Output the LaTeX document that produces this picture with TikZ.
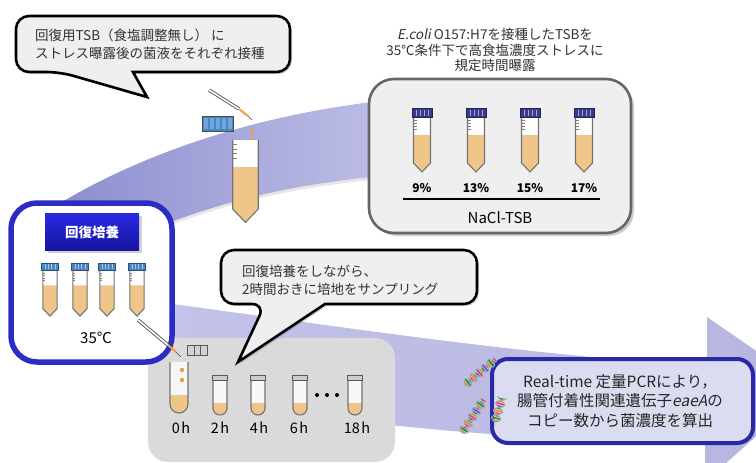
\documentclass[tikz,border=0pt]{standalone}
\usepackage{fontspec}
\setmainfont{Noto Sans CJK JP}
\newfontfamily\slantfont{Noto Sans CJK JP}[FakeSlant=0.2]
\usetikzlibrary{shadows}

\definecolor{broth}{HTML}{EFC58A}
\definecolor{drop}{HTML}{E9A040}
\definecolor{navycap}{HTML}{3A3A8C}
\definecolor{steelcap}{HTML}{4A86C4}
\definecolor{cellblue}{HTML}{6FA6DC}
\definecolor{recblue}{HTML}{2C2CC4}
\definecolor{pcrblue}{HTML}{2A2AA8}
\definecolor{pcrfill}{HTML}{DCDCF0}
\definecolor{boxgray}{HTML}{EFEFEF}
\definecolor{panelgray}{HTML}{DADADA}
\definecolor{headtop}{HTML}{2A2AE0}
\definecolor{headbot}{HTML}{1414A0}
\definecolor{bandA}{HTML}{8E8ED0}
\definecolor{bandB}{HTML}{D4D4F2}
\definecolor{bandC}{HTML}{BDBDE6}
\definecolor{bandD}{HTML}{C2C2EA}
\definecolor{bandE}{HTML}{DDDDF3}
\definecolor{bandF}{HTML}{B5B5E0}

\newcommand{\fsize}[2]{\fontsize{#1}{#2}\selectfont}

\tikzset{
  callout/.style={draw=black, line width=2.6pt, fill=boxgray, drop shadow={opacity=0.3, shadow xshift=2pt, shadow yshift=-2pt}},
  saltbox/.style={draw=black!60, line width=2.6pt, fill=boxgray, rounded corners=25pt, drop shadow={opacity=0.4, shadow xshift=3pt, shadow yshift=-3pt}},
  recbox/.style={draw=recblue, line width=5.5pt, fill=white, rounded corners=26pt},
  pcrbox/.style={draw=pcrblue, line width=4pt, fill=pcrfill, rounded corners=16pt, drop shadow={opacity=0.25, shadow xshift=2pt, shadow yshift=-2pt}},
  header/.style={top color=headtop, bottom color=headbot, text=white, font=\bfseries\fsize{13.5}{16}, minimum width=94pt, minimum height=37pt, drop shadow={opacity=0.35}},
  note/.style={align=left, text=black!80, inner sep=0pt},
  upperband/.style={left color=bandA, middle color=bandB, right color=bandC, drop shadow={opacity=0.2, shadow xshift=0pt, shadow yshift=-3pt}},
  lowerband/.style={left color=bandD, middle color=bandE, right color=bandF},
  tubeedge/.style={draw=black!55, line width=1.1pt, line join=round},
  pct/.style={font=\bfseries\fsize{12}{14}},
  hours/.style={font=\fsize{14.5}{16}},
}

% conical tube, cap top at (#1,#2), scaled by #3
\newcommand{\conetube}[3]{%
  \begin{scope}[shift={(#1,#2)}, scale=#3]
    \fill[white] (-8.5,9) rectangle (8.5,27);
    \fill[broth] (-8.5,27) -- (-8.5,55) -- (0,64) -- (8.5,55) -- (8.5,27) -- cycle;
    \foreach \m in {12,15,18,21} \draw[gray, line width=0.6pt] (-8.5,\m) -- (-5.5,\m);
    \draw[tubeedge] (-8.5,9) -- (-8.5,55) -- (0,64) -- (8.5,55) -- (8.5,9);
  \end{scope}}

% screw cap for the conical tube
\newcommand{\tubecap}[4]{%
  \begin{scope}[shift={(#1,#2)}, scale=#3]
    \fill[#4] (-10,0) rectangle (10,9);
    \foreach \s in {-6,-2,2,6} \draw[white!55!#4, line width=0.6pt] (\s,1.5) -- (\s,7.5);
    \draw[#4!60!black, line width=0.6pt] (-10,0) rectangle (10,9);
  \end{scope}}

% round-bottom tube: x, top, bottom, liquid level, half width
\newcommand{\roundtube}[5]{%
  \fill[white!94!gray, rounded corners=#5pt] ({#1-#5},#2) -- ({#1-#5},#3) -- ({#1+#5},#3) -- ({#1+#5},#2);
  \fill[broth, rounded corners=#5pt] ({#1-#5},#4) -- ({#1-#5},#3) -- ({#1+#5},#3) -- ({#1+#5},#4);
  \draw[tubeedge, rounded corners=#5pt] ({#1-#5},#2) -- ({#1-#5},#3) -- ({#1+#5},#3) -- ({#1+#5},#2);}

% pipette: body #1--#2, orange tip to #3, point at #4
\newcommand{\pipette}[4]{%
  \draw[gray!70!black, line width=3.4pt] #1 -- #2;
  \draw[white, line width=1.6pt] #1 -- #2;
  \draw[drop, line width=2pt] #2 -- #3;
  \draw[black!70, line width=0.6pt] #3 -- #4;}

% little double helix from (#1,#2), tilted by #3, length #4
\newcommand{\helix}[4]{%
  \begin{scope}[shift={(#1,#2)}, rotate=#3]
    \foreach \r [count=\k] in {1.5,4,...,#4} {
      \pgfmathtruncatemacro\hm{mod(\k,4)}
      \ifcase\hm \def\rc{red!80}\or\def\rc{orange}\or\def\rc{green!60!black}\or\def\rc{blue!70}\fi
      \draw[\rc, line width=1.4pt] (\r,{4.5*sin(\r*24)}) -- (\r,{-4.5*sin(\r*24)});
    }
    \draw[gray!70, line width=1.1pt] plot[domain=0:#4, samples=40] (\x,{4.5*sin(\x*24)});
    \draw[gray!70, line width=1.1pt] plot[domain=0:#4, samples=40] (\x,{-4.5*sin(\x*24)});
  \end{scope}}

\begin{document}
\begin{tikzpicture}[x=1pt, y=-1pt, font=\fsize{13.5}{18}]
\useasboundingbox (0,0) rectangle (756,463);
\clip (0,0) rectangle (756,463);

% the two sweeping arrows
\path[upperband] (62,202) .. controls (150,150) and (260,115) .. (380,101) -- (380,176)
  .. controls (290,185) and (230,200) .. (165,224) -- cycle;
\path[lowerband] (165,303) .. controls (330,325) and (520,355) .. (707,366) -- (707,317)
  -- (810,388) -- (705,482) -- (705,442) .. controls (560,442) and (400,432) .. (165,395) -- cycle;

% sampling panel
\fill[panelgray, rounded corners=20pt] (148,338) rectangle (395,462);

% recovery culture
\draw[recbox] (11,203) rectangle (172,362);
\node[header] (rechead) at (92,232) {回復培養};
\foreach \x in {50,80,107,137} {
  \conetube{\x}{263}{0.83}
  \tubecap{\x}{263}{0.83}{steelcap}
}
\node[font=\fsize{15}{18}] (rectemp) at (96,338) {35℃};

% first callout
\draw[callout] (16,44) [rounded corners=13pt] -- (16,72) -- (60,72) [sharp corners] -- (147,97)
  -- (133,72) [rounded corners=13pt] -- (290,72) -- (290,16) -- (16,16) -- cycle;
\node[note, anchor=west] (inoctext) at (35,44) {回復用TSB（食塩調整無し） に\\ストレス曝露後の菌液をそれぞれ接種};

% inoculation into fresh TSB
\fill[steelcap] (202,116) rectangle (233,131);
\foreach \x in {203.5,209.5,...,227.5} \fill[cellblue] (\x,118) rectangle +(4.5,11);
\draw[black!70, line width=0.8pt] (202,116) rectangle (233,131);
\pipette{(209,90)}{(239,109)}{(248,116)}{(252,120)}
\fill[drop] (252,131) circle (2.2);
\fill[drop] (252,140) circle (2.2);
\conetube{245.5}{126.5}{1.5}

% stress exposure
\node[align=center, text=black!80, font=\fsize{13.5}{15.5}] (stresstext) at (495,50)
  {{\slantfont E.coli} O157:H7を接種したTSBを\\35℃条件下で高食塩濃度ストレスに\\規定時間曝露};
\draw[saltbox] (369,79) rectangle (631,233);
\foreach \x/\p in {422/9,476/13,530/15,584/17} {
  \conetube{\x}{108}{1}
  \tubecap{\x}{108}{1}{navycap}
  \node[pct] (pct\p) at (\x,188) {\p\%};
}
\draw[line width=1.2pt] (403,199) -- (600,199);
\node[font=\fsize{15}{18}] (nacl) at (500,218) {NaCl-TSB};

% sampling every two hours
\pipette{(138,320)}{(168,345)}{(176,352)}{(181,357)}
\fill[gray!35] (187,345) rectangle (207,355);
\draw[gray!70!black, line width=0.6pt] (187,345) rectangle (207,355) (194,345) -- (194,355) (200,345) -- (200,355);
\roundtube{179}{362}{413}{395}{9}
\fill[drop] (182,370) circle (2.2);
\fill[drop] (182,380) circle (2.2);
\foreach \x in {220,258,300,355} {
  \roundtube{\x}{375}{415}{403}{7}
  \fill[gray!40] (\x-7.5,375) rectangle (\x+7.5,380);
  \draw[gray!70!black, line width=0.5pt] (\x-7.5,375) rectangle (\x+7.5,380);
}
\foreach \x in {317,327,337} \fill (\x,395) circle (2);
\foreach \x/\t in {181/0,220/2,259/4,299/6,357/18}
  \node[hours] (h\t) at (\x,428) {\t\hspace{1.5pt}h};

% second callout
\draw[callout] (221,277) [rounded corners=13pt] -- (221,304) -- (265,304) [sharp corners] -- (238,362)
  -- (325,304) [rounded corners=13pt] -- (477,304) -- (477,250) -- (221,250) -- cycle;
\node[note, anchor=west] (sampletext) at (242,280) {回復培養をしながら、\\2時間おきに培地をサンプリング};

% quantification
\draw[pcrbox] (492,359) rectangle (753,443);
\node[align=center, text=black!85, font=\fsize{15.5}{19.5}] (pcrtext) at (620,401)
  {Real-time 定量PCRにより，\\腸管付着性関連遺伝子{\slantfont eaeA}の\\コピー数から菌濃度を算出};
\helix{465}{385}{40}{39}
\helix{462}{433}{57}{39}
\helix{495}{422}{74}{26}
\end{tikzpicture}
\end{document}
